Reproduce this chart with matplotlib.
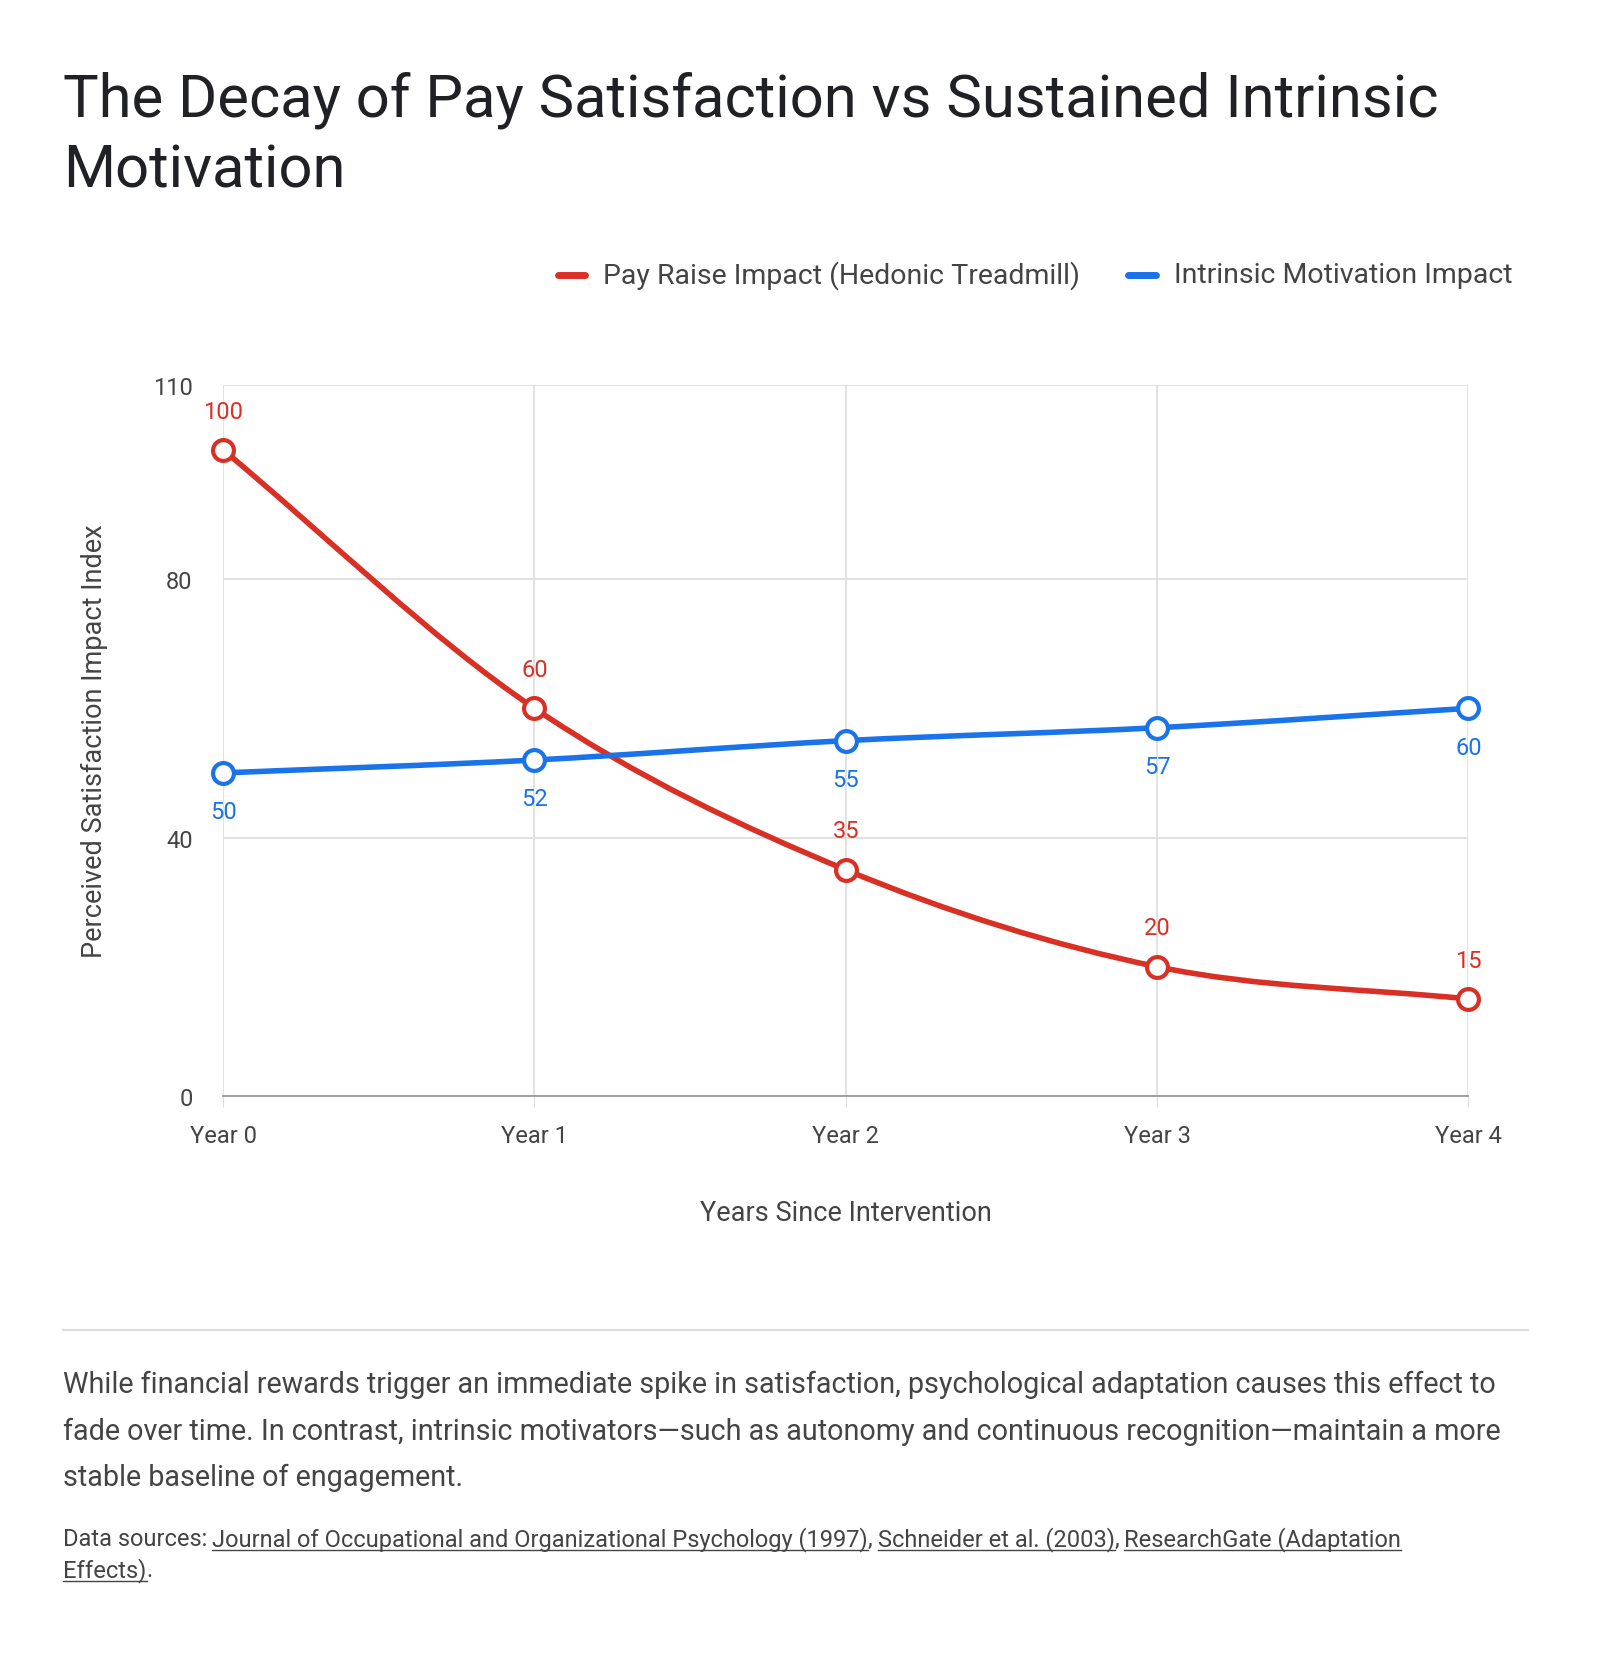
import numpy as np
import matplotlib
matplotlib.use("Agg")
import matplotlib.pyplot as plt
from matplotlib.path import Path
from matplotlib.patches import PathPatch

plt.rcParams['font.family'] = ['Roboto', 'DejaVu Sans']

years = ["Year 0", "Year 1", "Year 2", "Year 3", "Year 4"]
pay_raise = [100, 60, 35, 20, 15]
intrinsic = [50, 52, 55, 57, 60]

RED = "#d93025"
BLUE = "#1a73e8"
W, H = 1520, 1575  # reference layout units


def fx(px):
    return px / W


def fy(py):
    return 1 - py / H


def smooth_path(x, y):
    # cubic bezier through the points (catmull-rom style tangents)
    x = np.asarray(x, float)
    y = np.asarray(y, float)
    n = len(x)
    m = np.zeros(n)
    for i in range(n):
        a, b = max(i - 1, 0), min(i + 1, n - 1)
        m[i] = (y[b] - y[a]) / (x[b] - x[a])
    verts = [(x[0], y[0])]
    codes = [Path.MOVETO]
    for i in range(n - 1):
        h = x[i + 1] - x[i]
        verts += [(x[i] + h / 3, y[i] + m[i] * h / 3),
                  (x[i + 1] - h / 3, y[i + 1] - m[i + 1] * h / 3),
                  (x[i + 1], y[i + 1])]
        codes += [Path.CURVE4] * 3
    return Path(verts, codes)


fig = plt.figure(figsize=(16, 16.58), dpi=100)
ax = fig.add_axes([fx(212), fy(1042), fx(1395 - 212), fy(367) - fy(1042)])

xs = np.arange(len(years))
for vals, col, above in [(pay_raise, RED, True), (intrinsic, BLUE, False)]:
    ax.add_patch(PathPatch(smooth_path(xs, vals), fill=False, edgecolor=col,
                           lw=4, capstyle='round', zorder=3, clip_on=False))
    ax.plot(xs, vals, 'o', ms=15, mfc='white', mec=col, mew=3, zorder=4, clip_on=False)
    for x, v in zip(xs, vals):
        ax.annotate(str(v), (x, v), xytext=(0, 28 if above else -28),
                    textcoords='offset points', ha='center', va='center',
                    color=col, fontsize=17)

ax.set_xlim(0, 4)
ax.set_ylim(0, 110)
ax.set_xticks(xs)
ax.set_xticklabels(years)
ax.set_yticks([0, 40, 80, 110])
ax.grid(True, color="#dddddd", lw=1.2)
ax.set_axisbelow(True)
for s in ['top', 'right', 'left']:
    ax.spines[s].set_visible(False)
ax.spines['bottom'].set_color("#999999")
ax.spines['bottom'].set_linewidth(1.3)
ax.tick_params(length=8, color="#dddddd", labelsize=17, labelcolor="#444444", pad=12)
ax.tick_params(axis='y', length=0, pad=22)
ax.set_xlabel("Years Since Intervention", fontsize=19.5, color="#444444", labelpad=38)
ax.set_ylabel("Perceived Satisfaction Impact Index", fontsize=19.5, color="#444444", labelpad=32)

# title
fig.text(fx(60), fy(95), "The Decay of Pay Satisfaction vs Sustained Intrinsic",
         fontsize=43, color="#202124", va='center')
fig.text(fx(60), fy(162), "Motivation", fontsize=43, color="#202124", va='center')

# legend
for x0, col, lab in [(530, RED, "Pay Raise Impact (Hedonic Treadmill)"),
                     (1072, BLUE, "Intrinsic Motivation Impact")]:
    fig.add_artist(plt.Line2D([fx(x0), fx(x0 + 26)], [fy(262), fy(262)], color=col,
                              lw=5, solid_capstyle='round'))
    fig.text(fx(x0 + 43), fy(262), lab, fontsize=20.5, color="#444444", va='center')

# separator
fig.add_artist(plt.Line2D([fx(60), fx(1452)], [fy(1264), fy(1264)], color="#dddddd", lw=1.5))

body = ["While financial rewards trigger an immediate spike in satisfaction, psychological adaptation causes this effect to",
        "fade over time. In contrast, intrinsic motivators\u2014such as autonomy and continuous recognition\u2014maintain a more",
        "stable baseline of engagement."]
for i, line in enumerate(body):
    fig.text(fx(60), fy(1316 + 44 * i), line, fontsize=20.7, color="#444444", va='center')

# sources with underlined links
src_lines = [[("Data sources:", False), ("Journal of Occupational and Organizational Psychology (1997)", True),
              (",", False), ("Schneider et al. (2003)", True), (",", False),
              ("ResearchGate (Adaptation", True)],
             [("Effects)", True), (".", False)]]
renderer = fig.canvas.get_renderer()
for i, parts in enumerate(src_lines):
    xpos = fx(60)
    ypos = fy(1462 + 30 * i)
    for txt, link in parts:
        t = fig.text(xpos, ypos, txt, fontsize=17, color="#444444", va='center')
        bb = t.get_window_extent(renderer).transformed(fig.transFigure.inverted())
        if link:
            fig.add_artist(plt.Line2D([bb.x0, bb.x1], [bb.y0 + 0.0005, bb.y0 + 0.0005],
                                      color="#444444", lw=1))
        xpos = bb.x1 + (0.003 if txt in ("Data sources:", ",") else 0)

fig.savefig("out.png", dpi=100, facecolor='white')
